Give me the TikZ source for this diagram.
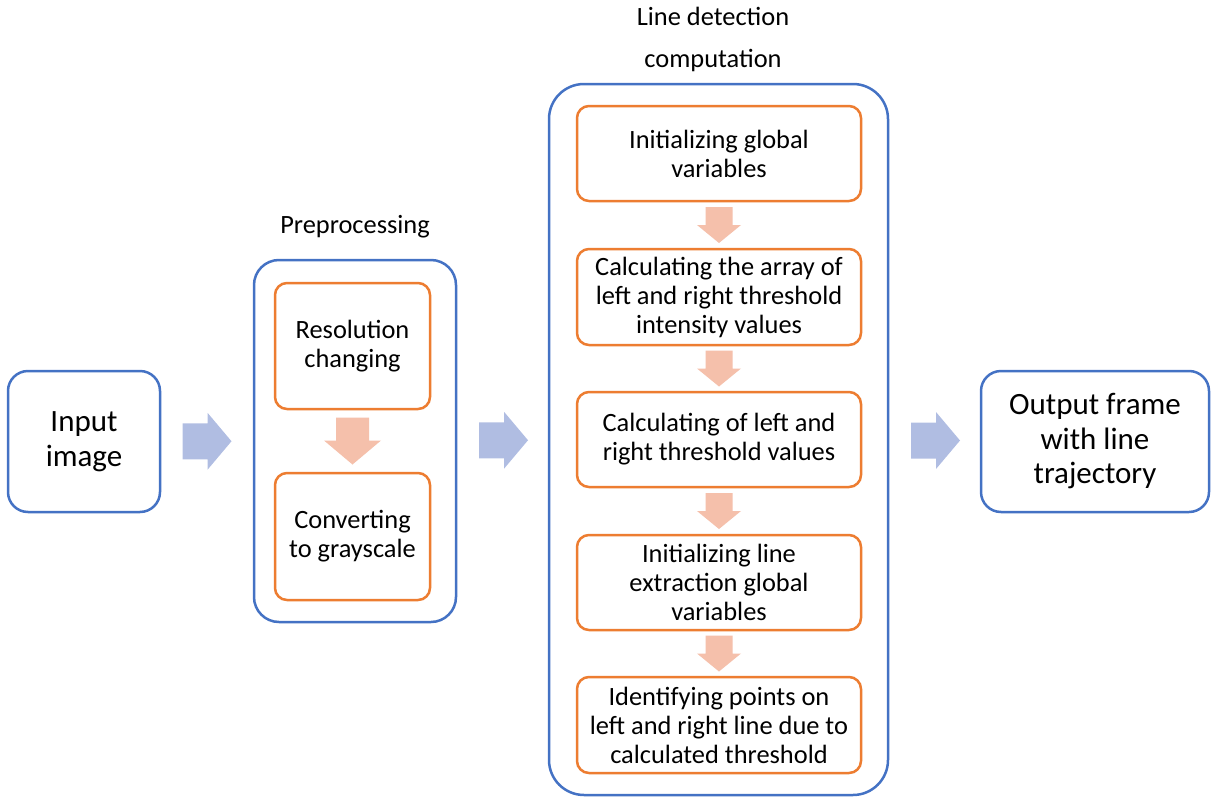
\documentclass[tikz,border=0pt]{standalone}
\usepackage{fontspec}
\setmainfont{Carlito}
\usetikzlibrary{calc}
\definecolor{frameblue}{HTML}{4472C4}
\definecolor{steporange}{HTML}{ED7D31}
\definecolor{arrowblue}{HTML}{B0BDE2}
\definecolor{arrowpeach}{HTML}{F5C0AB}
\tikzset{
  groupbox/.style={draw=frameblue, line width=2.5pt, fill=white, inner sep=0pt},
  stepbox/.style={draw=steporange, line width=2.5pt, rounded corners=12pt, inner sep=0pt,
    align=center, font=\fontsize{26.4}{29}\selectfont},
  endbox/.style={groupbox, rounded corners=20pt, align=center,
    font=\fontsize{31}{34.5}\selectfont},
  caption/.style={align=center, inner sep=0pt},
  rblock/.pic={\fill[arrowblue] (-24.5,-18) -- (0.5,-18) -- (0.5,-28.5) -- (24.5,0)
      -- (0.5,28.5) -- (0.5,18) -- (-24.5,18) -- cycle;},
  dblockbig/.pic={\fill[arrowpeach] (-16.5,-23.5) -- (16.5,-23.5) -- (16.5,-0.5) -- (28.5,-0.5)
      -- (0,23.5) -- (-28.5,-0.5) -- (-16.5,-0.5) -- cycle;},
  dblock/.pic={\fill[arrowpeach] (-13.5,-18) -- (13.5,-18) -- (13.5,0) -- (22,0)
      -- (0,18) -- (-22,0) -- (-13.5,0) -- cycle;}
}
\begin{document}
\begin{tikzpicture}[x=1pt, y=-1pt]
\useasboundingbox (0,0) rectangle (1211,798);

% input and output
\node[endbox, minimum width=152pt, minimum height=141pt] (in) at (84,441.5) {Input\\image};
\node[endbox, minimum width=228pt, minimum height=141pt] (out) at (1095,441.5)
  {Output frame\\with line\\trajectory};

% preprocessing group
\node[groupbox, rounded corners=25pt, minimum width=202pt, minimum height=362pt] (pre) at (355,441) {};
\node[caption, font=\fontsize{26.4}{29}\selectfont] (prelbl) at (355,227) {Preprocessing};
\node[stepbox, minimum width=155pt, minimum height=126pt] (res) at (352.5,346) {Resolution\\changing};
\node[stepbox, minimum width=155pt, minimum height=127pt] (conv) at (352.5,536.5) {Converting\\to grayscale};

% line detection group
\node[groupbox, rounded corners=35pt, minimum width=339pt, minimum height=711pt] (ld) at (718.5,439.5) {};
\node[caption, font=\fontsize{26.4}{42}\selectfont] (ldlbl) at (713,39) {Line detection\\computation};
\node[stepbox, minimum width=284pt, minimum height=95pt] (s1) at (719,153.5) {Initializing global\\variables};
\node[stepbox, minimum width=284pt, minimum height=96pt] (s2) at (719,297)
  {Calculating the array of\\left and right threshold\\intensity values};
\node[stepbox, minimum width=284pt, minimum height=95pt] (s3) at (719,439.5)
  {Calculating of left and\\right threshold values};
\node[stepbox, minimum width=284pt, minimum height=95pt] (s4) at (719,582.5)
  {Initializing line\\extraction global\\variables};
\node[stepbox, minimum width=284pt, minimum height=96pt] (s5) at (719,725)
  {Identifying points on\\left and right line due to\\calculated threshold};

% block arrows between stages
\path ($(in.east)!0.5!(pre.west)$) pic {rblock};
\path ($(pre.east)!0.5!(ld.west)$) ++(1,0) pic {rblock};
\path ($(ld.east)!0.5!(out.west)$) ++(1,0) pic {rblock};
\path ($(res.south)!0.5!(conv.north)$) pic {dblockbig};
\path ($(s1.south)!0.5!(s2.north)$) pic {dblock};
\path ($(s2.south)!0.5!(s3.north)$) pic {dblock};
\path ($(s3.south)!0.5!(s4.north)$) pic {dblock};
\path ($(s4.south)!0.5!(s5.north)$) pic {dblock};
\end{tikzpicture}
\end{document}
